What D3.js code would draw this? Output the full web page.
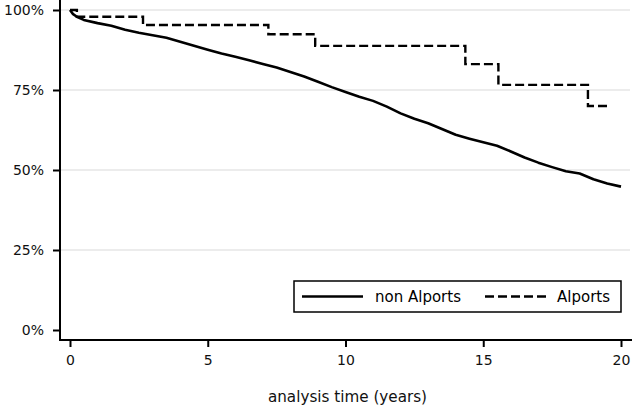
<!DOCTYPE html>
<html><head><meta charset="utf-8">
<script src="https://cdn.jsdelivr.net/npm/d3@7"></script>
<style>body{margin:0;background:#fff}svg{display:block}text{font-family:"DejaVu Sans",Verdana,sans-serif}</style>
</head><body>
<script>
// Kaplan-Meier estimates (time in years, survival %)
const nonTimes  = [0,0.1,0.25,0.5,1,1.5,2,2.5,3,3.5,4,4.5,5,5.5,6,6.5,7,7.5,8,8.5,9,9.5,10,10.5,11,11.5,12,12.5,13,13.5,14,14.5,15,15.5,16,16.5,17,17.5,18,18.5,19,19.5,20];
const nonValues = [100,98.8,97.9,96.9,95.9,95.1,93.8,92.9,92.1,91.3,90.1,88.8,87.6,86.4,85.4,84.3,83.1,82.0,80.6,79.2,77.6,75.9,74.4,72.9,71.6,69.8,67.7,66.0,64.6,62.8,61.0,59.8,58.7,57.6,55.8,53.9,52.3,50.9,49.6,48.9,47.1,45.8,44.8];
const alpTimes  = [0,0.25,2.65,7.2,8.9,14.35,15.55,18.8,19.55];
const alpValues = [100,97.9,95.3,92.4,88.8,83.1,76.6,70.0,70.0];
const xTicks = [0,5,10,15,20];
const yTicks = [0,25,50,75,100];
const gridTicks = [25,50,75,100];
const seriesNames = ["non Alports","Alports"];

const W=632,H=405;
const svg=d3.select("body").append("svg").attr("width",W).attr("height",H);
const x=d3.scaleLinear().domain([0,20]).range([70,621]);
const y=d3.scaleLinear().domain([0,100]).range([330,10]);
const left=60, bottom=340;

// gridlines
svg.append("g").selectAll("line").data(gridTicks).join("line")
  .attr("x1",left).attr("x2",630).attr("y1",d=>y(d)).attr("y2",d=>y(d))
  .attr("stroke","#e6e6e6").attr("stroke-width",1.6);

// axes
const ya=svg.append("g").attr("transform",`translate(${left},0)`)
  .call(d3.axisLeft(y).tickValues(yTicks).tickFormat(d=>d+"%").tickSize(7).tickPadding(9));
const xa=svg.append("g").attr("transform",`translate(0,${bottom})`)
  .call(d3.axisBottom(x).tickValues(xTicks).tickSize(7).tickPadding(8));
[ya,xa].forEach(g=>{
  g.select(".domain").remove();
  g.selectAll("line").attr("stroke","#000").attr("stroke-width",2);
  g.selectAll("text").attr("font-size",14).attr("fill","#111").attr("font-family","DejaVu Sans, Verdana, sans-serif");
});
svg.append("line").attr("x1",left).attr("x2",left).attr("y1",0).attr("y2",bottom+1).attr("stroke","#000").attr("stroke-width",2);
svg.append("line").attr("x1",left-1).attr("x2",632).attr("y1",bottom).attr("y2",bottom).attr("stroke","#000").attr("stroke-width",2);

// curves
const line=d3.line().x(d=>x(d[0])).y(d=>y(d[1])).curve(d3.curveStepAfter);
const lineLin=d3.line().x(d=>x(d[0])).y(d=>y(d[1]));
svg.append("path").datum(d3.zip(nonTimes,nonValues)).attr("d",lineLin)
  .attr("fill","none").attr("stroke","#000").attr("stroke-width",2.6).attr("stroke-linejoin","round");
svg.append("path").datum(d3.zip(alpTimes,alpValues)).attr("d",line)
  .attr("fill","none").attr("stroke","#000").attr("stroke-width",2.4).attr("stroke-dasharray","9,4");

// legend
const lg=svg.append("g");
lg.append("rect").attr("x",294).attr("y",281).attr("width",327).attr("height",31)
  .attr("fill","#fff").attr("stroke","#000").attr("stroke-width",1.5);
lg.append("line").attr("x1",302).attr("x2",363).attr("y1",296.5).attr("y2",296.5).attr("stroke","#000").attr("stroke-width",2.4);
lg.append("text").attr("x",375).attr("y",301.5).attr("font-size",15).text(seriesNames[0]);
lg.append("line").attr("x1",485).attr("x2",549).attr("y1",296.5).attr("y2",296.5).attr("stroke","#000").attr("stroke-width",2.4).attr("stroke-dasharray","9,4");
lg.append("text").attr("x",557).attr("y",301.5).attr("font-size",15).text(seriesNames[1]);

// axis title
svg.append("text").attr("x",347.5).attr("y",401.5).attr("text-anchor","middle").attr("font-size",15.2).attr("fill","#111").text("analysis time (years)");
</script>
</body></html>
